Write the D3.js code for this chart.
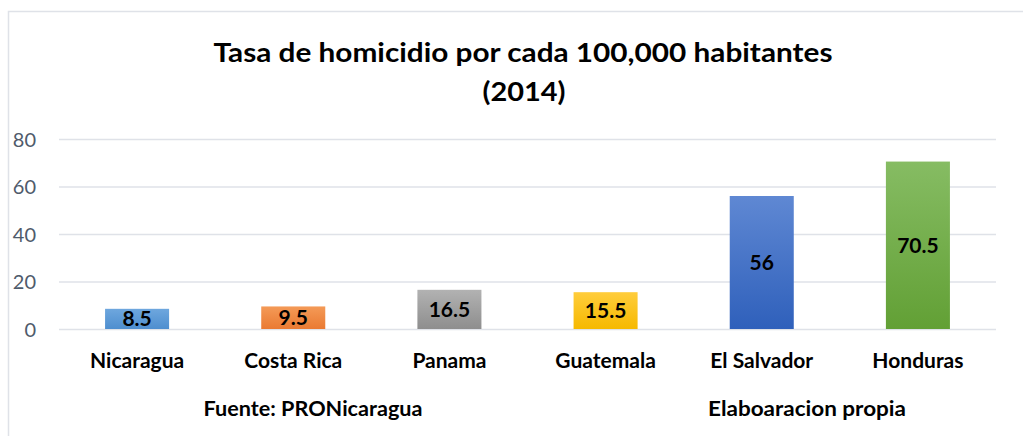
<!DOCTYPE html>
<html>
<head>
<meta charset="utf-8">
<script src="https://cdn.jsdelivr.net/npm/d3@7"></script>
<style>
  html, body { margin: 0; padding: 0; background: #fff; }
  svg { display: block; }
  text { font-family: Lato, "Open Sans", sans-serif; }
</style>
</head>
<body>
<svg id="chart" width="1023" height="436"></svg>
<script>
const categories = ["Nicaragua", "Costa Rica", "Panama", "Guatemala", "El Salvador", "Honduras"];
const values = [8.5, 9.5, 16.5, 15.5, 56, 70.5];
const valueLabels = ["8.5", "9.5", "16.5", "15.5", "56", "70.5"];
const yTicks = [0, 20, 40, 60, 80];
const titleLines = ["Tasa de homicidio por cada 100,000 habitantes", "(2014)"];
const footnotes = ["Fuente: PRONicaragua", "Elaboaracion propia"];
const barTop = ["#6ea7de", "#f49a57", "#b2b2b2", "#ffcd3c", "#5f88d3", "#86bc63"];
const barBottom = ["#4e8ecf", "#ea7a32", "#8e8e8e", "#f6b900", "#2f60bb", "#62a035"];

const svg = d3.select("#chart");

// outer frame (chart area border)
svg.append("rect")
  .attr("x", 8.5).attr("y", 11.5)
  .attr("width", 1030).attr("height", 440)
  .attr("fill", "none").attr("stroke", "#dfe2e8").attr("stroke-width", 1.5);

const x = d3.scaleBand().domain(categories).range([59, 996])
  .paddingInner(0.59).paddingOuter(0.295);
const y = d3.scaleLinear().domain([0, 80]).range([329, 139]);

// gradients
const defs = svg.append("defs");
categories.forEach((c, i) => {
  const g = defs.append("linearGradient").attr("id", "grad" + i)
    .attr("x1", 0).attr("y1", 0).attr("x2", 0).attr("y2", 1);
  g.append("stop").attr("offset", "0%").attr("stop-color", barTop[i]);
  g.append("stop").attr("offset", "100%").attr("stop-color", barBottom[i]);
});

// gridlines + y tick labels
const yAxis = d3.axisLeft(y).tickValues(yTicks).tickSize(-(996 - 59)).tickPadding(0);
const gy = svg.append("g").attr("transform", "translate(59,0)").call(yAxis);
gy.select(".domain").remove();
gy.selectAll(".tick line").attr("stroke", "#dfe2e8").attr("stroke-width", 1.5);
gy.selectAll(".tick text")
  .attr("x", -23).attr("dy", "0.36em")
  .attr("fill", "#4f5b6b")
  .style("font-size", "20px").style("font-family", "Lato, sans-serif");

// bars
svg.append("g").selectAll("rect").data(values).join("rect")
  .attr("x", (d, i) => x(categories[i]))
  .attr("y", d => y(d))
  .attr("width", x.bandwidth())
  .attr("height", d => y(0) - y(d))
  .attr("fill", (d, i) => `url(#grad${i})`);

// value labels
svg.append("g").selectAll("text").data(values).join("text")
  .attr("x", (d, i) => x(categories[i]) + x.bandwidth() / 2)
  .attr("y", d => (y(d) + y(0)) / 2)
  .attr("dy", "0.36em")
  .attr("text-anchor", "middle")
  .attr("font-weight", "bold")
  .style("font-size", "21px")
  .attr("fill", "#000")
  .text((d, i) => valueLabels[i]);

// category labels
const xAxis = d3.axisBottom(x).tickSize(0);
const gx = svg.append("g").attr("transform", "translate(0,329)").call(xAxis);
gx.select(".domain").remove();
gx.selectAll(".tick text")
  .attr("y", 39).attr("dy", 0)
  .attr("fill", "#000")
  .attr("font-weight", "bold")
  .style("font-size", "21px").style("font-family", "Lato, sans-serif");

// title
const title = svg.append("text").attr("text-anchor", "middle")
  .attr("font-weight", "bold").style("font-size", "27px").attr("fill", "#000");
title.append("tspan").attr("x", 523).attr("y", 62).text(titleLines[0]);
title.append("tspan").attr("x", 524).attr("y", 101).text(titleLines[1]);

// footnotes
const footX = [313, 807];
svg.append("g").selectAll("text").data(footnotes).join("text")
  .attr("x", (d, i) => footX[i]).attr("y", 416)
  .attr("text-anchor", "middle")
  .attr("font-weight", "bold")
  .style("font-size", "21px")
  .attr("fill", "#000")
  .text(d => d);

// fit text widths to the reference (Calibri-like metrics)
function fit(sel, target) {
  const n = sel.node();
  const w = n.getComputedTextLength();
  if (Math.abs(w - target) > 2) {
    sel.attr("textLength", target).attr("lengthAdjust", "spacingAndGlyphs");
  }
}
fit(title.select("tspan:nth-child(1)"), 619);
fit(title.select("tspan:nth-child(2)"), 83);
const footW = [219, 198];
svg.selectAll("g text").filter(d => footnotes.includes(d)).each(function(d) {
  fit(d3.select(this), footW[footnotes.indexOf(d)]);
});
</script>
</body>
</html>
